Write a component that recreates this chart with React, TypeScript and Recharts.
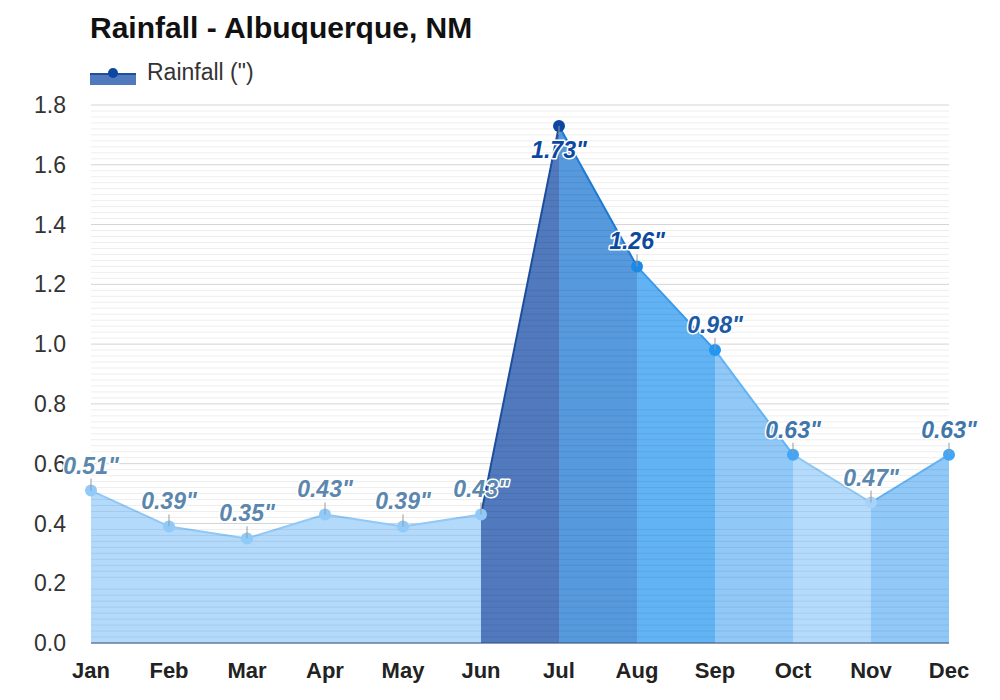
import React from 'react';
import { AreaChart, Area, Line, XAxis, YAxis, CartesianGrid, LabelList, ReferenceLine } from 'recharts';

const months = ['Jan', 'Feb', 'Mar', 'Apr', 'May', 'Jun', 'Jul', 'Aug', 'Sep', 'Oct', 'Nov', 'Dec'];
const rainfall = [0.51, 0.39, 0.35, 0.43, 0.39, 0.43, 1.73, 1.26, 0.98, 0.63, 0.47, 0.63];

// colours for the span between month i and month i+1
const segmentFills = ['#b3d9fb', '#b3d9fb', '#b3d9fb', '#b3d9fb', '#b3d9fb', '#5179bd', '#5699dd', '#62b3f4', '#90c8f7', '#b5dbfc', '#90c8f8'];
const segmentStrokes = ['#90c8f7', '#90c8f7', '#90c8f7', '#90c8f7', '#90c8f7', '#1d4f9e', '#1e7bd8', '#3a9cee', '#64b5f6', '#8fc7f5', '#64b2f2'];
const pointColors = ['#90caf9', '#90caf9', '#90caf9', '#90caf9', '#90caf9', '#90caf9', '#0d47a1', '#1e88e5', '#2196f3', '#42a5f5', '#a8d3f8', '#42a5f5'];
const labelColors = ['#5b87ae', '#5b87ae', '#5b87ae', '#5b87ae', '#5b87ae', '#5b87ae', '#0d47a1', '#0e4a9c', '#1b5aa5', '#3f77ab', '#5b87ae', '#3f77ab'];

const yTicks = [0, 0.2, 0.4, 0.6, 0.8, 1.0, 1.2, 1.4, 1.6, 1.8];
const minorTicks = Array.from({ length: 91 }, (_, i) => Math.round(i * 2) / 100).filter(
  (v) => Math.round(v * 100) % 20 !== 0
);

const data = months.map((m, j) => {
  const row: Record<string, any> = { month: m, value: rainfall[j] };
  segmentFills.forEach((_, i) => {
    row[`s${i}`] = j === i || j === i + 1 ? rainfall[j] : null;
  });
  return row;
});

const FONT = '"Liberation Sans", Arial, Helvetica, sans-serif';
const MARGIN = { top: 105, right: 51, bottom: 0, left: 0 };

const PointLabel = (props: any) => {
  const { x, y, value, index } = props;
  if (x == null || y == null) return null;
  const below = y < 140;
  const ty = below ? y + 32 : y - 17;
  return (
    <g>
      <line x1={x} x2={x} y1={below ? y : y - 12} y2={below ? y + 9 : y} stroke="#999" strokeWidth={1} />
      <text
        x={x}
        y={ty}
        textAnchor="middle"
        fontFamily={FONT}
        fontSize={23}
        fontWeight="bold"
        fontStyle="italic"
        fill={labelColors[index]}
        stroke="#ffffff"
        strokeWidth={3}
        strokeLinejoin="round"
        paintOrder="stroke"
      >
        {`${Number(value).toFixed(2)}"`}
      </text>
    </g>
  );
};

const PointDot = (props: any) => {
  const { cx, cy, index } = props;
  if (cx == null || cy == null) return null;
  return <circle key={`d${index}`} cx={cx} cy={cy} r={6} fill={pointColors[index]} />;
};

export default function App() {
  return (
    <div style={{ position: 'absolute', left: 0, top: 0, width: 1000, height: 700, background: '#fff', fontFamily: FONT }}>
      <div style={{ position: 'absolute', left: 90, top: 11, fontSize: 30, fontWeight: 'bold', color: '#111', whiteSpace: 'nowrap' }}>
        Rainfall - Albuquerque, NM
      </div>
      <svg style={{ position: 'absolute', left: 88, top: 62 }} width={52} height={28}>
        <rect x={2} y={12} width={46} height={11} fill="#5179bd" />
        <line x1={2} x2={48} y1={12} y2={12} stroke="#1d4f9e" strokeWidth={2} />
        <circle cx={25} cy={11} r={5} fill="#0d47a1" />
      </svg>
      <div style={{ position: 'absolute', left: 147, top: 59, fontSize: 23, color: '#333', whiteSpace: 'nowrap' }}>
        Rainfall (&quot;)
      </div>
      <div style={{ position: 'absolute', left: 0, top: 0 }}>
        <AreaChart width={1000} height={700} data={data} margin={MARGIN}>
          <CartesianGrid vertical={false} stroke="#d4d4d4" />
          <XAxis
            dataKey="month"
            height={57}
            tickLine={false}
            tickSize={0}
            tickMargin={19}
            axisLine={{ stroke: '#34507a', strokeWidth: 1 }}
            tick={{ fill: '#222', fontSize: 22, fontWeight: 'bold', fontFamily: FONT }}
            interval={0}
          />
          <YAxis
            width={91}
            domain={[0, 1.8]}
            ticks={yTicks}
            tickFormatter={(v: number) => v.toFixed(1)}
            axisLine={false}
            tickLine={false}
            tickSize={0}
            tickMargin={25}
            tick={{ fill: '#333', fontSize: 23, fontFamily: FONT }}
            interval={0}
          />
          {segmentFills.map((c, i) => (
            <Area
              key={`s${i}`}
              type="linear"
              dataKey={`s${i}`}
              fill={c}
              fillOpacity={1}
              stroke={segmentStrokes[i]}
              strokeWidth={2}
              dot={false}
              activeDot={false}
              connectNulls={false}
              isAnimationActive={false}
            />
          ))}
          {minorTicks.map((v) => (
            <ReferenceLine key={`m${v}`} y={v} stroke="#000000" strokeOpacity={0.07} strokeWidth={1} />
          ))}
          <Line
            type="linear"
            dataKey="value"
            stroke="none"
            dot={<PointDot />}
            activeDot={false}
            isAnimationActive={false}
          >
            <LabelList dataKey="value" content={<PointLabel />} />
          </Line>
        </AreaChart>
      </div>
    </div>
  );
}
